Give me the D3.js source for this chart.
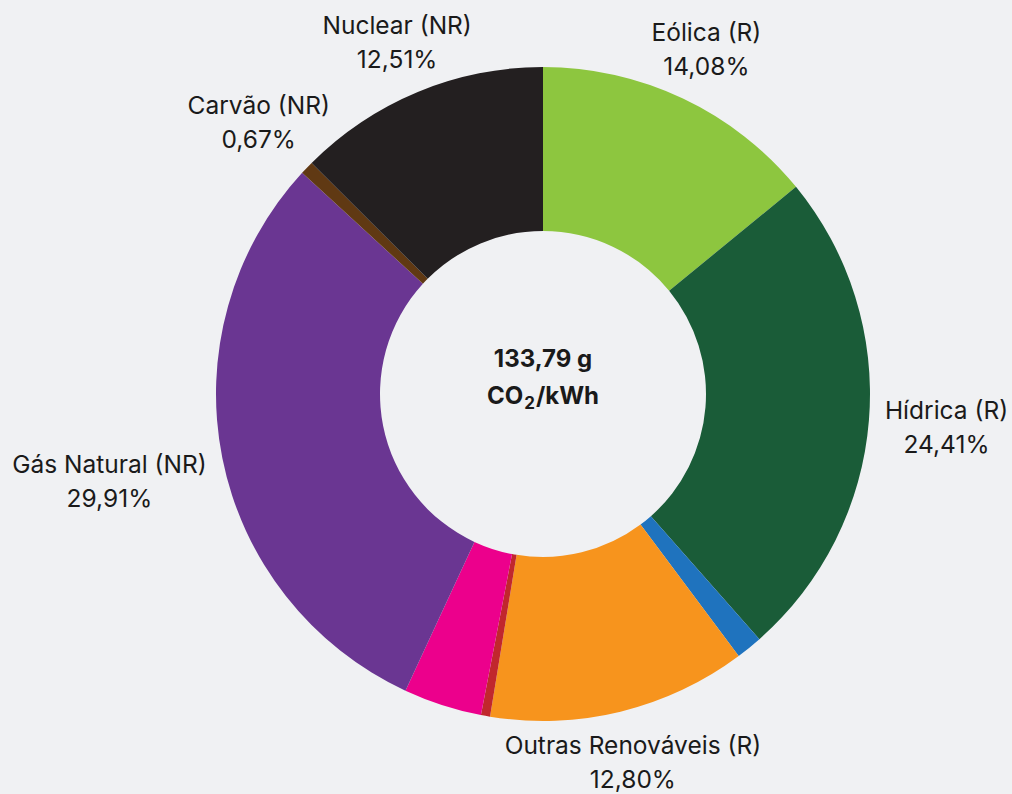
<!DOCTYPE html>
<html>
<head>
<meta charset="utf-8">
<script src="https://cdn.jsdelivr.net/npm/d3@7"></script>
<style>
  html, body { margin: 0; padding: 0; background: #f0f1f3; }
  svg { display: block; }
  text { font-family: Inter, "Noto Sans", sans-serif; fill: #1a1a1a; }
</style>
</head>
<body>
<svg id="chart" width="1012" height="794"></svg>
<script>
// Data
const categories = ["Eólica (R)", "Hídrica (R)", "Biomassa", "Outras Renováveis (R)", "Fuelóleo", "Cogeração", "Gás Natural (NR)", "Carvão (NR)", "Nuclear (NR)"];
const shares = [14.08, 24.41, 1.30, 12.80, 0.45, 3.87, 29.91, 0.67, 12.51];
const showLabel = [true, true, false, true, false, false, true, true, true];
const colors = ["#8dc63f", "#1a5c38", "#1f73be", "#f7941d", "#c1272d", "#ec008c", "#6a3692", "#603913", "#231f20"];
const centerLines = ["133,79 g", "CO₂/kWh"];

const cx = 543, cy = 394;
const outerR = 327, innerR = 163;
const fontSize = 24.5, lineGap = 34;

const svg = d3.select("#chart");
const g = svg.append("g").attr("transform", `translate(${cx},${cy})`);

const data = categories.map((c, i) => ({ name: c, value: shares[i], color: colors[i], show: showLabel[i] }));

const pie = d3.pie().value(d => d.value).sort(null);
const arc = d3.arc().innerRadius(innerR).outerRadius(outerR);
const arcs = pie(data);

g.selectAll("path.slice")
  .data(arcs)
  .join("path")
  .attr("class", "slice")
  .attr("d", arc)
  .attr("fill", d => d.data.color);

const fmt = v => v.toFixed(2).replace(".", ",") + "%";

// Labels: centred on the slice's mid-angle ray, pushed out until the ray
// point at radius `rho` lies on the label box's edge.
const rho = 343, halfH = 35;
const lab = g.selectAll("g.label")
  .data(arcs.filter(d => d.data.show))
  .join("g")
  .attr("class", "label");

lab.each(function(d) {
  const a = (d.startAngle + d.endAngle) / 2;
  const s = Math.sin(a), c = Math.cos(a);
  const t = d3.select(this).append("text")
    .attr("text-anchor", "middle")
    .attr("font-size", fontSize);
  const t1 = t.append("tspan").attr("x", 0).attr("y", -lineGap / 2 + 9).text(d.data.name);
  const t2 = t.append("tspan").attr("x", 0).attr("y", lineGap / 2 + 9).text(fmt(d.data.value));
  const halfW = Math.max(t1.node().getComputedTextLength(), t2.node().getComputedTextLength()) / 2;
  const kx = Math.abs(s) > 1e-6 ? halfW / Math.abs(s) : Infinity;
  const ky = Math.abs(c) > 1e-6 ? halfH / Math.abs(c) : Infinity;
  const dist = rho + Math.min(kx, ky);
  d3.select(this).attr("transform", `translate(${dist * s},${-dist * c})`);
});

// Centre text
const ct = g.append("text").attr("text-anchor", "middle").attr("font-size", 24).attr("font-weight", 700);
ct.append("tspan").attr("x", 0).attr("y", -36 + 9).text(centerLines[0]);
const l2 = ct.append("tspan").attr("x", 0).attr("y", 1 + 9);
l2.append("tspan").text("CO");
l2.append("tspan").attr("font-size", 17).attr("dx", 1).attr("dy", 5).text("2");
l2.append("tspan").attr("dx", 1).attr("dy", -5).text("/kWh");
</script>
</body>
</html>
